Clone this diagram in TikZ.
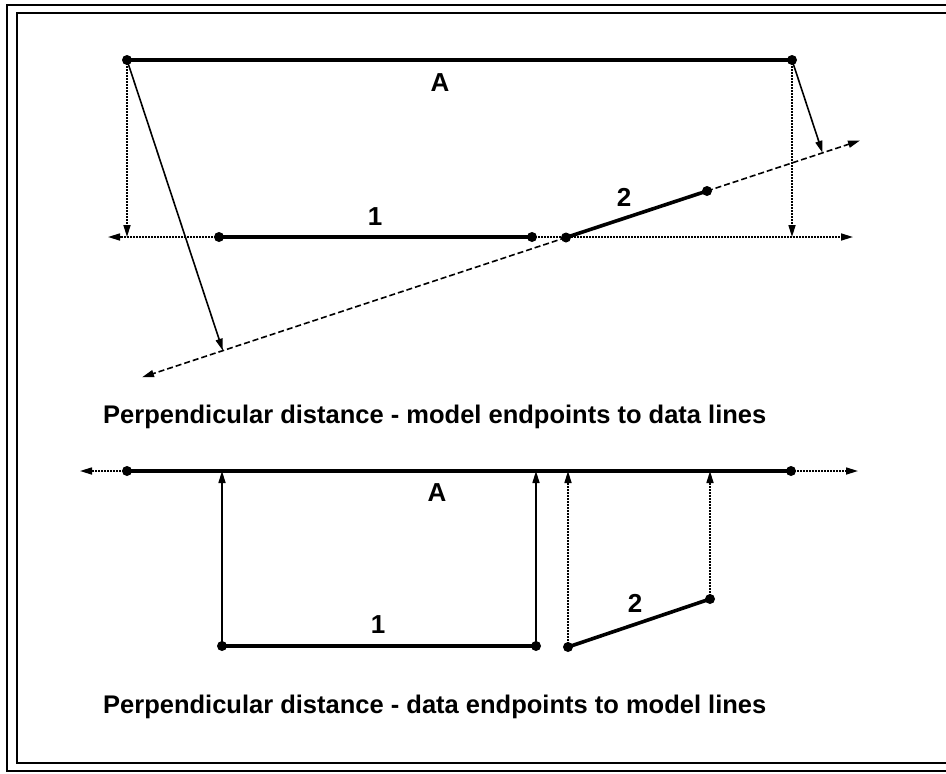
\documentclass[tikz,border=0pt]{standalone}
\usepackage{fontspec}
\setmainfont{Liberation Sans}
\usetikzlibrary{arrows.meta,calc}
\begin{document}
\begin{tikzpicture}[x=1pt,y=-1pt,
  thickline/.style={line width=3.6pt},
  thinline/.style={line width=1.6pt},
  dotline/.style={line width=1.6pt,dash pattern=on 2pt off 1pt},
  dashline/.style={line width=1.6pt,dash pattern=on 6pt off 3pt},
  tip/.style={-{Triangle[length=12pt,width=7pt]}},
  dot/.style={circle,fill,inner sep=0pt,minimum size=10pt},
  lbl/.style={font=\fontsize{26}{30}\selectfont\bfseries},
  captext/.style={font=\fontsize{25.5}{30}\selectfont\bfseries,anchor=base west,inner sep=0pt}]
\useasboundingbox (0,0) rectangle (946,774);
\fill[white] (0,0) rectangle (946,774);
% frame
\draw[line width=2pt] (7,5) rectangle (960,771);
\draw[line width=2.8pt] (17,13) rectangle (960,763);
% ---------- top diagram ----------
\node[dot] (A1) at (127,60) {};
\node[dot] (A2) at (792,60) {};
\draw[thickline] (A1.center) -- (A2.center);
\node[lbl] (LA) at (440,83) {A};
% data line 1
\coordinate (Hl) at (108,237);
\coordinate (Hr) at (853,237);
\node[dot] (D1a) at (219,237) {};
\node[dot] (D1b) at (532,237) {};
\draw[dotline,tip] (D1a.center) -- (Hl);
\draw[dotline,tip] (D1b.center) -- (Hr);
\draw[thickline] (D1a.center) -- (D1b.center);
\node[lbl] (L1) at (375,217) {1};
% data line 2
\node[dot] (D2a) at (566,237.5) {};
\node[dot] (D2b) at (707,191) {};
\coordinate (Gl) at (142,377.3);
\coordinate (Gr) at (860,140.5);
\draw[dashline,tip] (D2a.center) -- (Gl);
\draw[dashline,tip] (D2b.center) -- (Gr);
\draw[thickline] (D2a.center) -- (D2b.center);
\node[lbl] (L2) at (624,197) {2};
% perpendiculars
\coordinate (P1) at ($(Hl)!(A1.center)!(Hr)$);
\coordinate (P2) at ($(Hl)!(A2.center)!(Hr)$);
\coordinate (P3) at ($(Gl)!(A1.center)!(Gr)$);
\coordinate (P4) at ($(Gl)!(A2.center)!(Gr)$);
\draw[dotline,tip] (A1.center) -- (P1);
\draw[dotline,tip] (A2.center) -- (P2);
\draw[thinline,tip] (A1.center) -- (P3);
\draw[thinline,tip] (A2.center) -- (P4);
\node[captext] (C1) at (103,423) {Perpendicular distance - model endpoints to data lines};
% ---------- bottom diagram ----------
\node[dot] (B1) at (127,471) {};
\node[dot] (B2) at (791,471) {};
\coordinate (Bl) at (80,471);
\coordinate (Br) at (858,471);
\draw[dotline,tip] (B1.center) -- (Bl);
\draw[dotline,tip] (B2.center) -- (Br);
\draw[thickline] (B1.center) -- (B2.center);
\node[lbl] (LB) at (437,493) {A};
\node[dot] (E1a) at (222,646) {};
\node[dot] (E1b) at (536,646) {};
\draw[thickline] (E1a.center) -- (E1b.center);
\node[lbl] (M1) at (378,625) {1};
\node[dot] (E2a) at (568,647) {};
\node[dot] (E2b) at (710,599) {};
\draw[thickline] (E2a.center) -- (E2b.center);
\node[lbl] (M2) at (635,603) {2};
\coordinate (Q1) at ($(Bl)!(E1a.center)!(Br)$);
\coordinate (Q2) at ($(Bl)!(E1b.center)!(Br)$);
\coordinate (Q3) at ($(Bl)!(E2a.center)!(Br)$);
\coordinate (Q4) at ($(Bl)!(E2b.center)!(Br)$);
\draw[thinline,tip] (E1a.center) -- (Q1);
\draw[thinline,tip] (E1b.center) -- (Q2);
\draw[dotline,tip] (E2a.center) -- (Q3);
\draw[dotline,tip] (E2b.center) -- (Q4);
\node[captext] (C2) at (103,713) {Perpendicular distance - data endpoints to model lines};
\end{tikzpicture}
\end{document}
